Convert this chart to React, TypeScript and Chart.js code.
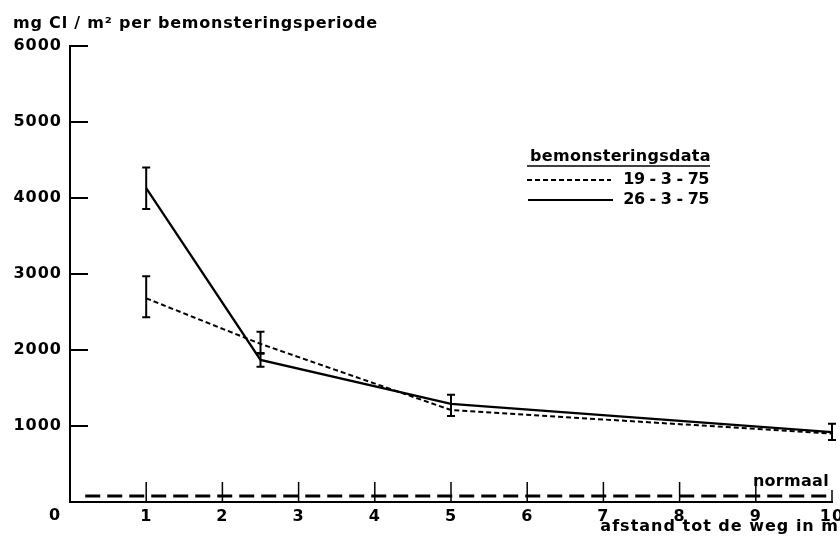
import React, { useEffect, useRef } from "react";
import { Chart, registerables } from "chart.js";

Chart.register(...registerables);

// ---- data ----
const distances = [1, 2.5, 5, 10];
const series19 = [2680, 2080, 1210, 900];
const series26 = [4130, 1870, 1290, 920];
const errLow19: (number | null)[] = [2430, 1950, null, null];
const errHigh19: (number | null)[] = [2970, 2240, null, null];
const errLow26: (number | null)[] = [3855, 1780, 1130, 815];
const errHigh26: (number | null)[] = [4400, 1960, 1410, 1030];
const normaalX = [0.2, 10];
const normaalY = [80, 80];
const yTickValues = [1000, 2000, 3000, 4000, 5000, 6000];
const xTickValues = [1, 2, 3, 4, 5, 6, 7, 8, 9, 10];
const seriesLabels = ["19 - 3 - 75", "26 - 3 - 75"];
const legendTitle = "bemonsteringsdata";
const yTitle = "mg Cl / m² per bemonsteringsperiode";
const xTitle = "afstand tot de weg in m";
const normaalLabel = "normaal";

const FONT = "'DejaVu Sans', sans-serif";
const SPACING = "1px";

const spacingPlugin = {
  id: "spacing",
  beforeLayout(chart: any) {
    chart.ctx.letterSpacing = SPACING;
  },
  beforeDraw(chart: any) {
    chart.ctx.letterSpacing = SPACING;
  },
};

const decorPlugin = {
  id: "decor",
  afterDatasetsDraw(chart: any) {
    const { ctx, chartArea, scales } = chart;
    const xs = scales.x;
    const ys = scales.y;
    ctx.save();
    ctx.strokeStyle = "#000";
    ctx.fillStyle = "#000";

    // inward tick marks
    ctx.lineWidth = 2;
    yTickValues.forEach((v) => {
      const py = ys.getPixelForValue(v);
      ctx.beginPath();
      ctx.moveTo(chartArea.left, py);
      ctx.lineTo(chartArea.left + 18, py);
      ctx.stroke();
    });
    ctx.lineWidth = 1.5;
    xTickValues.forEach((v) => {
      const px = xs.getPixelForValue(v);
      ctx.beginPath();
      ctx.moveTo(px, chartArea.bottom);
      ctx.lineTo(px, chartArea.bottom - (v === 10 ? 12 : 20));
      ctx.stroke();
    });

    // error bars
    const drawBar = (x: number, lo: number | null, hi: number | null) => {
      if (lo == null || hi == null) return;
      const px = xs.getPixelForValue(x);
      const p1 = ys.getPixelForValue(lo);
      const p2 = ys.getPixelForValue(hi);
      ctx.lineWidth = 2;
      ctx.beginPath();
      ctx.moveTo(px, p1);
      ctx.lineTo(px, p2);
      ctx.moveTo(px - 4, p1);
      ctx.lineTo(px + 4, p1);
      ctx.moveTo(px - 4, p2);
      ctx.lineTo(px + 4, p2);
      ctx.stroke();
    };
    distances.forEach((d, i) => {
      drawBar(d, errLow19[i], errHigh19[i]);
      drawBar(d, errLow26[i], errHigh26[i]);
    });

    ctx.font = `bold 16px ${FONT}`;
    ctx.textBaseline = "middle";

    // title
    ctx.letterSpacing = "0.8px";
    ctx.textAlign = "left";
    ctx.fillText(yTitle, 13, 24);

    // x-axis title
    ctx.letterSpacing = "1px";
    ctx.textAlign = "right";
    ctx.fillText(xTitle, 839, 527);

    // origin label
    ctx.textAlign = "center";
    ctx.fillText("0", chartArea.left - 15, chartArea.bottom + 14);

    // normaal label
    ctx.letterSpacing = "0.3px";
    ctx.textAlign = "right";
    ctx.fillText(normaalLabel, xs.getPixelForValue(10) - 3, ys.getPixelForValue(normaalY[1]) - 14);

    // legend
    ctx.textAlign = "left";
    ctx.letterSpacing = "0.3px";
    ctx.fillText(legendTitle, 530, 157);
    ctx.lineWidth = 1.5;
    ctx.beginPath();
    ctx.moveTo(527, 166);
    ctx.lineTo(710, 166);
    ctx.stroke();

    ctx.lineWidth = 2;
    ctx.setLineDash([5, 3]);
    ctx.beginPath();
    ctx.moveTo(527, 180);
    ctx.lineTo(611, 180);
    ctx.stroke();
    ctx.setLineDash([]);
    ctx.lineWidth = 2.2;
    ctx.beginPath();
    ctx.moveTo(528, 200);
    ctx.lineTo(613, 200);
    ctx.stroke();
    ctx.letterSpacing = "-0.5px";
    ctx.textAlign = "right";
    ctx.fillText(seriesLabels[0], 709, 180);
    ctx.fillText(seriesLabels[1], 709, 200);

    ctx.restore();
  },
};

export default function App() {
  const ref = useRef<HTMLCanvasElement | null>(null);

  useEffect(() => {
    if (!ref.current) return;
    const chart = new Chart(ref.current, {
      type: "line",
      data: {
        datasets: [
          {
            label: seriesLabels[0],
            data: distances.map((x, i) => ({ x, y: series19[i] })),
            borderColor: "#000",
            borderWidth: 2,
            borderDash: [5, 3],
            pointRadius: 0,
            tension: 0,
            fill: false,
          },
          {
            label: seriesLabels[1],
            data: distances.map((x, i) => ({ x, y: series26[i] })),
            borderColor: "#000",
            borderWidth: 2.3,
            pointRadius: 0,
            tension: 0,
            fill: false,
          },
          {
            label: normaalLabel,
            data: normaalX.map((x, i) => ({ x, y: normaalY[i] })),
            borderColor: "#000",
            borderWidth: 3,
            borderDash: [15, 7],
            pointRadius: 0,
            fill: false,
          },
        ],
      },
      options: {
        animation: false,
        responsive: false,
        layout: { padding: { top: 46, right: 8, left: 0, bottom: 0 } },
        plugins: {
          legend: { display: false },
          tooltip: { enabled: false },
          title: { display: false },
        },
        scales: {
          x: {
            type: "linear",
            min: 0,
            max: 10,
            afterBuildTicks: (scale: any) => {
              scale.ticks = xTickValues.map((v) => ({ value: v }));
            },
            ticks: {
              color: "#000",
              font: { family: FONT, size: 16, weight: "bold" },
              padding: 5,
              maxRotation: 0,
              autoSkip: false,
              callback: (v: any) => String(v),
            },
            grid: { display: false, drawTicks: false },
            border: { display: true, color: "#000", width: 2 },
            title: { display: false },
            afterFit: (scale: any) => {
              scale.height = 40;
              scale.paddingLeft = 0;
              scale.paddingRight = 0;
            },
          },
          y: {
            type: "linear",
            min: 0,
            max: 6000,
            afterBuildTicks: (scale: any) => {
              scale.ticks = yTickValues.map((v) => ({ value: v }));
            },
            ticks: {
              color: "#000",
              font: { family: FONT, size: 16, weight: "bold" },
              padding: 8,
              callback: (v: any) => String(v),
            },
            grid: { display: false, drawTicks: false },
            border: { display: true, color: "#000", width: 2 },
            afterFit: (scale: any) => {
              scale.width = 70;
              scale.paddingTop = 0;
              scale.paddingBottom = 0;
            },
          },
        },
      } as any,
      plugins: [spacingPlugin, decorPlugin],
    });
    return () => chart.destroy();
  }, []);

  return (
    <div style={{ position: "fixed", left: 0, top: 0, width: 840, height: 542, background: "#fff" }}>
      <canvas ref={ref} width={840} height={542} style={{ display: "block" }} />
    </div>
  );
}
